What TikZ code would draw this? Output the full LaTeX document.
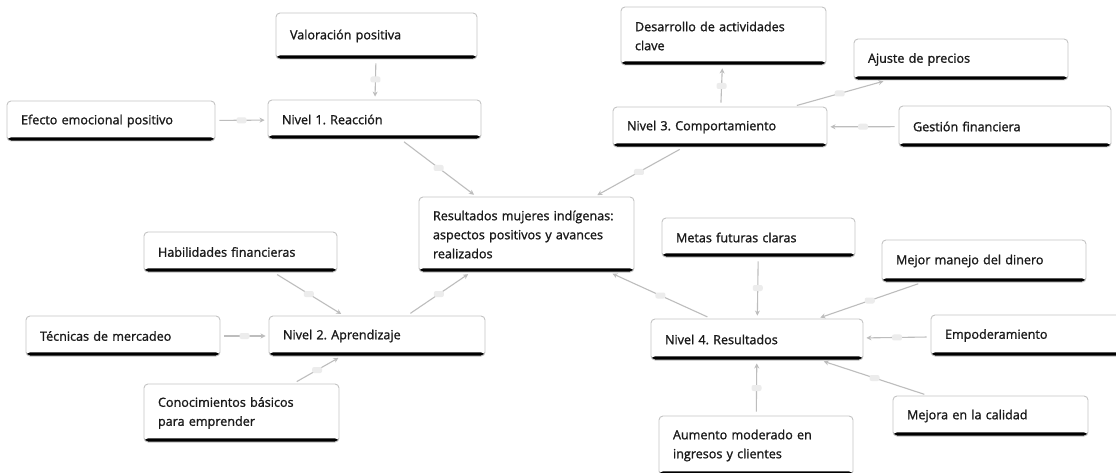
\documentclass[tikz,border=0pt]{standalone}
\usepackage{fontspec}
\setmainfont{Open Sans}
\newfontfamily\boxfont{Open Sans}[FakeBold=1.3]
\usetikzlibrary{arrows.meta}
\definecolor{txt}{HTML}{1A1A1A}
\definecolor{bord}{HTML}{C4C4C4}
\definecolor{conncol}{HTML}{BDBDBD}
\definecolor{pillcol}{HTML}{ECECEC}
\tikzset{
  box/.style={draw=bord, line width=0.9pt, fill=white, rounded corners=4pt,
    inner xsep=14pt, inner ysep=0pt, align=left, text=txt,
    font=\boxfont\fontsize{12.6}{19}\selectfont\frenchspacing,
    path picture={\fill[black] ([yshift=3.6pt]path picture bounding box.south west) rectangle (path picture bounding box.south east);}},
  conn/.style={draw=conncol, line width=1.1pt, -{Stealth[length=5pt,width=5pt]},
    shorten <=4pt, shorten >=3pt},
  pill/.style={fill=pillcol, draw=none, rounded corners=2pt, minimum width=10pt,
    minimum height=6pt, inner sep=0pt}
}
\newcommand\bx[6]{%
  \pgfmathsetmacro\bw{#4-#2}\pgfmathsetmacro\bh{#5-#3}\pgfmathsetmacro\tw{#4-#2-26}%
  \pgfmathsetmacro\cx{(#2+#4)/2}\pgfmathsetmacro\cy{-(#3+#5)/2}%
  \node[box, minimum width=\bw pt, minimum height=\bh pt, text width=\tw pt] (#1) at (\cx pt,\cy pt) {#6};}
\begin{document}
\begin{tikzpicture}[x=1pt,y=1pt]
\useasboundingbox (0,0) rectangle (1116,-473);
\fill[white] (0,0) rectangle (1116,-473);
\clip (0,0) rectangle (1116,-473);
\bx{val}{277}{13}{476}{59}{Valoración positiva}
\bx{ef}{8}{101}{214}{141}{Efecto emocional positivo}
\bx{n1}{269}{100}{480}{139}{Nivel 1. Reacción}
\bx{res}{420}{197}{633}{272}{Resultados mujeres indígenas:\\aspectos positivos y avances\\realizados}
\bx{des}{622}{7}{825}{65}{Desarrollo de actividades\\clave}
\bx{aju}{855}{39}{1067}{80}{Ajuste de precios}
\bx{n3}{614}{107}{826}{147}{Nivel 3. Comportamiento}
\bx{ges}{900}{106}{1110}{147}{Gestión financiera}
\bx{hab}{145}{232}{336}{272}{Habilidades financieras}
\bx{tec}{27}{316}{219}{356}{Técnicas de mercadeo}
\bx{n2}{270}{316}{484}{356}{Nivel 2. Aprendizaje}
\bx{con}{145}{384}{338}{442}{Conocimientos básicos\\para emprender}
\bx{met}{663}{218}{854}{257}{Metas futuras claras}
\bx{mej}{883}{240}{1085}{282}{Mejor manejo del dinero}
\bx{n4}{652}{319}{862}{360}{Nivel 4. Resultados}
\bx{emp}{932}{315}{1130}{356}{Empoderamiento}
\bx{mjc}{894}{396}{1087}{436}{Mejora en la calidad}
\bx{aum}{660}{416}{852}{475}{Aumento moderado en\\ingresos y clientes}
\draw[conn] (val) -- node[pill] (p1) {} (n1);
\draw[conn] (ef) -- node[pill] (p2) {} (n1);
\draw[conn] (n1) -- node[pill] (p3) {} (res);
\draw[conn] (n3) -- node[pill] (p4) {} (des);
\draw[conn] (n3) -- node[pill] (p5) {} (aju);
\draw[conn] (ges) -- node[pill] (p6) {} (n3);
\draw[conn] (n3) -- node[pill] (p7) {} (res);
\draw[conn] (hab) -- node[pill] (p8) {} (n2);
\draw[conn] (tec) -- node[pill] (p9) {} (n2);
\draw[conn] (con) -- node[pill] (p10) {} (n2);
\draw[conn] (n2) -- node[pill] (p11) {} (res);
\draw[conn] (n4) -- node[pill] (p12) {} (res);
\draw[conn] (met) -- node[pill] (p13) {} (n4);
\draw[conn] (mej) -- node[pill] (p14) {} (n4);
\draw[conn] (emp) -- node[pill] (p15) {} (n4);
\draw[conn] (mjc) -- node[pill] (p16) {} (n4);
\draw[conn] (aum) -- node[pill] (p17) {} (n4);
\end{tikzpicture}
\end{document}
